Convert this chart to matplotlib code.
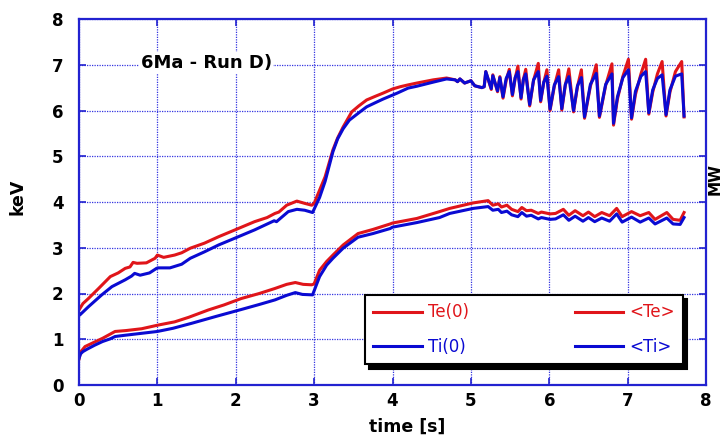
import matplotlib
matplotlib.use("Agg")
import matplotlib.pyplot as plt

# ---- data -------------------------------------------------------------
# central electron temperature Te(0) [keV]
t_te0 = [0.00, 0.05, 0.12, 0.25, 0.40, 0.50, 0.59, 0.65, 0.69, 0.74, 0.86, 0.97,
         1.00, 1.08, 1.22, 1.31, 1.42, 1.60, 1.78, 1.99, 2.24, 2.40, 2.50, 2.55,
         2.65, 2.78, 2.88, 2.97, 3.00, 3.07, 3.14, 3.24, 3.30, 3.37, 3.48, 3.57,
         3.67, 3.78, 3.88, 4.00, 4.10, 4.20, 4.31, 4.52, 4.69, 4.80, 4.83, 4.86,
         4.92, 5.00, 5.05, 5.14, 5.17,
         5.19, 5.26, 5.28, 5.34, 5.37, 5.41, 5.45, 5.49, 5.53, 5.565, 5.60, 5.64,
         5.67, 5.70, 5.75, 5.80, 5.86, 5.89, 5.93, 5.97, 6.01, 6.065, 6.12, 6.16,
         6.205, 6.25, 6.31, 6.36, 6.41, 6.45, 6.525, 6.60, 6.64, 6.72, 6.80, 6.82,
         6.87, 6.94, 7.01, 7.05, 7.10, 7.17, 7.23, 7.27, 7.32, 7.38, 7.44, 7.49,
         7.54, 7.61, 7.69, 7.72]
te0 = [1.64, 1.78, 1.89, 2.11, 2.37, 2.45, 2.55, 2.58, 2.68, 2.66, 2.67, 2.77,
       2.84, 2.79, 2.84, 2.89, 2.99, 3.10, 3.24, 3.39, 3.57, 3.66, 3.75, 3.78,
       3.93, 4.02, 3.97, 3.93, 3.97, 4.26, 4.55, 5.14, 5.40, 5.64, 5.97, 6.10,
       6.23, 6.31, 6.38, 6.47, 6.52, 6.56, 6.60, 6.67, 6.71, 6.67, 6.63, 6.69,
       6.60, 6.65, 6.54, 6.50, 6.52,
       6.85, 6.46, 6.78, 6.41, 6.74, 6.27, 6.65, 6.90, 6.32, 6.70, 6.97, 6.25,
       6.68, 6.90, 6.10, 6.66, 7.03, 6.19, 6.61, 6.89, 6.00, 6.53, 6.89, 6.01,
       6.55, 6.91, 5.97, 6.52, 6.89, 5.83, 6.53, 7.00, 5.85, 6.55, 7.02, 5.68,
       6.25, 6.75, 7.12, 5.81, 6.35, 6.80, 7.12, 5.92, 6.40, 6.80, 7.07, 5.88,
       6.40, 6.85, 7.07, 5.86]

# central ion temperature Ti(0) [keV]
t_ti0 = [0.00, 0.01, 0.12, 0.29, 0.42, 0.59, 0.67, 0.71, 0.78, 0.90, 0.99, 1.01,
         1.16, 1.31, 1.42, 1.60, 1.78, 1.99, 2.24, 2.49, 2.52, 2.67, 2.78, 2.88,
         2.98, 3.07, 3.14, 3.24, 3.30, 3.37, 3.45, 3.57, 3.67, 3.78, 3.88, 4.06,
         4.20, 4.31, 4.52, 4.69, 4.80, 4.83, 4.86, 4.92, 5.00, 5.05, 5.14, 5.17,
         5.19, 5.26, 5.28, 5.34, 5.37, 5.41, 5.45, 5.49, 5.53, 5.565, 5.60, 5.64,
         5.67, 5.70, 5.75, 5.80, 5.86, 5.89, 5.93, 5.97, 6.01, 6.065, 6.12, 6.16,
         6.205, 6.25, 6.31, 6.36, 6.41, 6.45, 6.525, 6.60, 6.64, 6.72, 6.80, 6.82,
         6.87, 6.94, 7.01, 7.05, 7.10, 7.17, 7.23, 7.27, 7.32, 7.38, 7.44, 7.49,
         7.54, 7.61, 7.69, 7.72]
ti0 = [1.56, 1.53, 1.71, 1.97, 2.15, 2.30, 2.38, 2.44, 2.40, 2.45, 2.55, 2.56,
       2.56, 2.64, 2.77, 2.91, 3.06, 3.21, 3.39, 3.59, 3.57, 3.79, 3.84, 3.82,
       3.77, 4.10, 4.45, 5.10, 5.38, 5.60, 5.79, 5.95, 6.08, 6.17, 6.25, 6.38,
       6.49, 6.53, 6.62, 6.69, 6.67, 6.63, 6.69, 6.60, 6.65, 6.54, 6.50, 6.52,
       6.85, 6.48, 6.76, 6.43, 6.72, 6.30, 6.70, 6.85, 6.35, 6.72, 6.85, 6.28,
       6.68, 6.80, 6.13, 6.67, 6.85, 6.22, 6.62, 6.75, 6.03, 6.56, 6.74, 6.04,
       6.57, 6.74, 6.00, 6.54, 6.72, 5.86, 6.57, 6.81, 5.88, 6.57, 6.80, 5.72,
       6.30, 6.72, 6.89, 5.84, 6.42, 6.75, 6.85, 5.95, 6.45, 6.70, 6.78, 5.91,
       6.45, 6.75, 6.80, 5.88]

# volume-averaged electron temperature <Te> [keV]
t_te_avg = [0.00, 0.02, 0.077, 0.20, 0.30, 0.46, 0.60, 0.80, 1.01, 1.22, 1.40,
            1.65, 1.85, 2.07, 2.30, 2.50, 2.65, 2.76, 2.86, 2.97, 3.00, 3.07,
            3.16, 3.24, 3.37, 3.56, 3.75, 3.97, 4.00, 4.31, 4.60, 4.73, 5.03,
            5.22, 5.28, 5.35, 5.39, 5.46, 5.52, 5.60, 5.65, 5.71, 5.77, 5.86,
            5.90, 6.01, 6.08, 6.18, 6.25, 6.33, 6.43, 6.50, 6.58, 6.67, 6.77,
            6.86, 6.93, 7.05, 7.16, 7.27, 7.35, 7.50, 7.58, 7.67, 7.72]
te_avg = [0.57, 0.72, 0.84, 0.94, 1.02, 1.17, 1.19, 1.23, 1.31, 1.38, 1.48,
          1.64, 1.75, 1.89, 2.00, 2.11, 2.20, 2.24, 2.20, 2.19, 2.21, 2.51,
          2.70, 2.84, 3.06, 3.31, 3.40, 3.52, 3.54, 3.64, 3.79, 3.86, 3.98,
          4.03, 3.93, 3.96, 3.89, 3.93, 3.84, 3.79, 3.88, 3.81, 3.82, 3.75,
          3.78, 3.74, 3.75, 3.84, 3.71, 3.81, 3.70, 3.78, 3.68, 3.77, 3.70,
          3.86, 3.68, 3.79, 3.70, 3.77, 3.62, 3.77, 3.62, 3.60, 3.77]

# volume-averaged ion temperature <Ti> [keV]
t_ti_avg = [0.00, 0.02, 0.05, 0.10, 0.20, 0.30, 0.40, 0.46, 0.60, 0.80, 1.00,
            1.20, 1.44, 1.75, 2.07, 2.30, 2.50, 2.65, 2.76, 2.85, 2.98, 3.07,
            3.16, 3.24, 3.37, 3.56, 3.75, 3.97, 4.00, 4.31, 4.60, 4.73, 5.03,
            5.22, 5.28, 5.35, 5.39, 5.46, 5.52, 5.60, 5.65, 5.71, 5.77, 5.86,
            5.90, 6.01, 6.08, 6.18, 6.25, 6.33, 6.43, 6.50, 6.58, 6.67, 6.77,
            6.86, 6.93, 7.05, 7.16, 7.27, 7.35, 7.50, 7.58, 7.67, 7.72]
ti_avg = [0.58, 0.68, 0.73, 0.78, 0.87, 0.95, 1.01, 1.06, 1.09, 1.13, 1.17,
          1.24, 1.35, 1.50, 1.65, 1.76, 1.86, 1.96, 2.02, 1.98, 1.97, 2.37,
          2.62, 2.77, 2.99, 3.23, 3.31, 3.42, 3.45, 3.55, 3.66, 3.75, 3.86,
          3.90, 3.82, 3.84, 3.77, 3.80, 3.72, 3.68, 3.77, 3.69, 3.71, 3.63,
          3.66, 3.62, 3.63, 3.72, 3.60, 3.69, 3.58, 3.66, 3.57, 3.65, 3.58,
          3.74, 3.56, 3.67, 3.56, 3.65, 3.52, 3.65, 3.52, 3.51, 3.66]

series_labels = ["Te(0)", "Ti(0)", "<Te>", "<Ti>"]
x_ticks = [0, 1, 2, 3, 4, 5, 6, 7, 8]
y_ticks = [0, 1, 2, 3, 4, 5, 6, 7, 8]

# ---- figure -----------------------------------------------------------
W, H = 723, 442
fig = plt.figure(figsize=(W / 100, H / 100), dpi=100)
ax_l, ax_r, ax_t, ax_b = 79, 706, 19, 385
ax = fig.add_axes([ax_l / W, 1 - ax_b / H, (ax_r - ax_l) / W, (ax_b - ax_t) / H])

red = "#e0151a"
blue = "#0a0ad2"
frame_blue = "#2222d0"
lw = 2.2

h_te0, = ax.plot(t_te0, te0, color=red, lw=lw, label=series_labels[0])
h_teav, = ax.plot(t_te_avg, te_avg, color=red, lw=lw, label=series_labels[2])
h_ti0, = ax.plot(t_ti0, ti0, color=blue, lw=lw, label=series_labels[1])
h_tiav, = ax.plot(t_ti_avg, ti_avg, color=blue, lw=lw, label=series_labels[3])

ax.set_xlim(0, 8)
ax.set_ylim(0, 8)
ax.set_xticks(x_ticks)
ax.set_yticks(y_ticks)
ax.grid(True, color="#3535e0", linestyle=(0, (1, 1)), linewidth=0.9)
ax.set_axisbelow(True)
for sp in ax.spines.values():
    sp.set_color(frame_blue)
    sp.set_linewidth(1.6)
ax.tick_params(direction="in", length=5, width=1.2, color=frame_blue,
               top=True, right=True, labelsize=12)
ax.tick_params(axis="x", pad=5)
ax.tick_params(axis="y", pad=11)
for lab in ax.get_xticklabels() + ax.get_yticklabels():
    lab.set_fontweight("bold")

# axis titles
fig.text(17 / W, 1 - 197 / H, "keV", rotation=90, ha="center", va="center",
         fontsize=12.5, fontweight="bold")
fig.text(407 / W, 1 - 427 / H, "time [s]", ha="center", va="center",
         fontsize=12.5, fontweight="bold")
fig.text(715 / W, 1 - 179 / H, "MW", rotation=90, ha="center", va="center",
         fontsize=11, fontweight="bold")

# run annotation
ax.text(0.79, 7.04, "6Ma - Run D)", ha="left", va="center", fontsize=13,
        fontweight="bold",
        bbox=dict(facecolor="white", edgecolor="none", pad=1.0))

# legend
leg = ax.legend([h_te0, h_ti0, h_teav, h_tiav], series_labels, ncol=2,
                loc="upper left",
                bbox_to_anchor=((365 - ax_l) / (ax_r - ax_l),
                                (ax_b - 295) / (ax_b - ax_t)),
                borderaxespad=0, fontsize=12, labelcolor="linecolor",
                handlelength=2.9, handletextpad=0.36, columnspacing=6.35,
                labelspacing=1.0, borderpad=0.5, fancybox=False,
                framealpha=1, edgecolor="black",
                shadow={"color": "black", "alpha": 1.0, "ox": 3, "oy": -3})
leg.get_frame().set_linewidth(1.5)

fig.savefig("out.png", dpi=100)
